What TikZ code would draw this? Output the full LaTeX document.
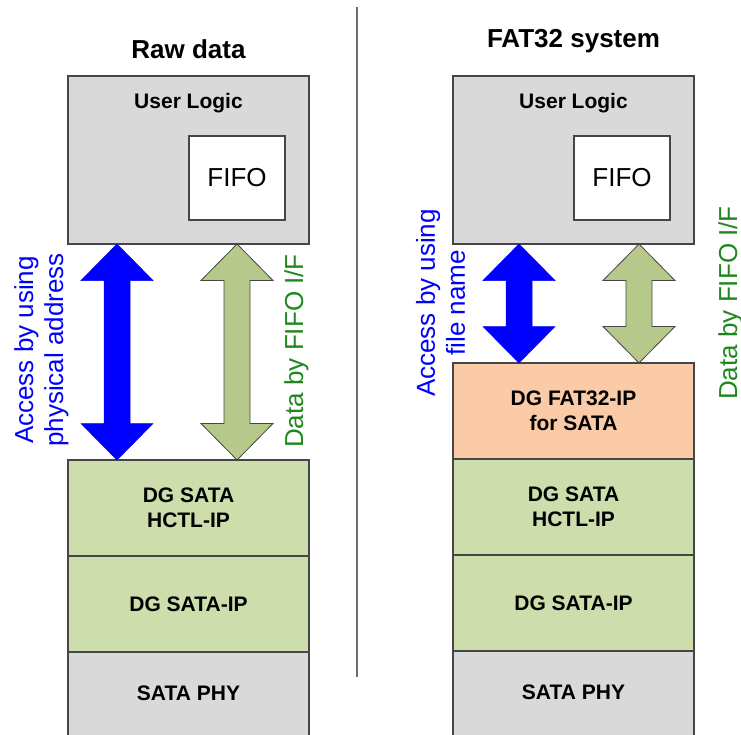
\documentclass[tikz,border=0pt]{standalone}
\usepackage{fontspec}
\setmainfont{Liberation Sans}
\usetikzlibrary{positioning,calc}

\definecolor{ulgray}{RGB}{217,217,217}
\definecolor{ipgreen}{RGB}{205,221,172}
\definecolor{fatorange}{RGB}{250,203,166}
\definecolor{arrgreen}{RGB}{182,201,138}
\definecolor{txtgreen}{RGB}{30,135,30}
\definecolor{edgegray}{RGB}{70,70,70}

\newcommand{\dblarrow}[3]{%
  \filldraw[#1] let \p1=(#2), \p2=(#3) in
    (\x1,\y1) -- (\x1+36pt,\y1-36.5pt) -- (\x1+13pt,\y1-36.5pt)
    -- (\x1+13pt,\y2+36.5pt) -- (\x1+36pt,\y2+36.5pt) -- (\x2,\y2)
    -- (\x1-36pt,\y2+36.5pt) -- (\x1-13pt,\y2+36.5pt)
    -- (\x1-13pt,\y1-36.5pt) -- (\x1-36pt,\y1-36.5pt) -- cycle;
}

\begin{document}
\begin{tikzpicture}[x=1pt,y=-1pt,
    block/.style={draw=edgegray,line width=1.3pt,minimum width=241pt,minimum height=96pt,
      inner sep=0pt,outer sep=0pt,align=center,font=\fontsize{21}{25.5}\selectfont\bfseries},
    ulbox/.style={block,fill=ulgray,minimum height=168pt},
    fifobox/.style={draw=edgegray,line width=1.3pt,fill=white,minimum width=96pt,
      minimum height=84pt,inner sep=0pt,outer sep=0pt,font=\fontsize{26}{30}\selectfont},
    lbl/.style={font=\fontsize{21}{25}\selectfont\bfseries,inner sep=0pt,anchor=base},
    title/.style={font=\fontsize{26}{30}\selectfont\bfseries,inner sep=0pt,anchor=base},
    side/.style={font=\fontsize{26}{30}\selectfont,inner sep=0pt,align=center,rotate=90},
    bluearrow/.style={fill=blue,draw=blue,line width=0.5pt},
    greenarrow/.style={fill=arrgreen,draw=edgegray,line width=0.8pt},
    divider/.style={draw={rgb,255:red,110;green,110;blue,110},line width=1.8pt}]

  \useasboundingbox (0,0) rectangle (741,735);

  % raw data
  \node[ulbox,anchor=north west] (ulL) at (68,76) {};
  \node[title] (titleL) at ([yshift=17pt]ulL.north) {Raw data};
  \node[lbl] (ulLt) at ([yshift=-33pt]ulL.north) {User Logic};
  \node[fifobox,anchor=north east] (fifoL) at ([xshift=-24pt,yshift=-60pt]ulL.north east) {FIFO};
  \node[block,fill=ipgreen] (hctlL) [below=216pt of ulL] {DG SATA\\HCTL-IP};
  \node[block,fill=ipgreen] (ipL) [below=0pt of hctlL] {DG SATA-IP};
  \node[block,fill=ulgray] (phyL) [below=0pt of ipL] {};
  \node[lbl] (phyLt) at ([yshift=-48pt]phyL.north) {SATA PHY};

  \dblarrow{bluearrow}{[xshift=49pt]ulL.south west}{[xshift=49pt]hctlL.north west}
  \dblarrow{greenarrow}{[xshift=169pt]ulL.south west}{[xshift=169pt]hctlL.north west}

  \node[side,text=blue] (accL) at (41.5,350) {Access by using\\physical address};
  \node[side,text=txtgreen,anchor=base] (dataL) at (303,351) {Data by FIFO I/F};

  % divider
  \coordinate (divTop) at (357,7);
  \coordinate (divBot) at (357,677);
  \draw[divider] (divTop) -- (divBot);

  % fat32 system
  \node[ulbox,anchor=north west] (ulR) at (453,76) {};
  \node[title] (titleR) at ([yshift=28pt]ulR.north) {FAT32 system};
  \node[lbl] (ulRt) at ([yshift=-33pt]ulR.north) {User Logic};
  \node[fifobox,anchor=north east] (fifoR) at ([xshift=-24pt,yshift=-60pt]ulR.north east) {FIFO};
  \node[block,fill=fatorange] (fatR) [below=119pt of ulR] {DG FAT32-IP\\for SATA};
  \node[block,fill=ipgreen] (hctlR) [below=0pt of fatR] {DG SATA\\HCTL-IP};
  \node[block,fill=ipgreen] (ipR) [below=0pt of hctlR] {DG SATA-IP};
  \node[block,fill=ulgray] (phyR) [below=0pt of ipR] {};
  \node[lbl] (phyRt) at ([yshift=-48pt]phyR.north) {SATA PHY};

  \dblarrow{bluearrow}{[xshift=66pt]ulR.south west}{[xshift=66pt]fatR.north west}
  \dblarrow{greenarrow}{[xshift=186pt]ulR.south west}{[xshift=186pt]fatR.north west}

  \node[side,text=blue] (accR) at (440.5,303) {Access by using\\file name};
  \node[side,text=txtgreen,anchor=base] (dataR) at (737,303) {Data by FIFO I/F};
\end{tikzpicture}
\end{document}
